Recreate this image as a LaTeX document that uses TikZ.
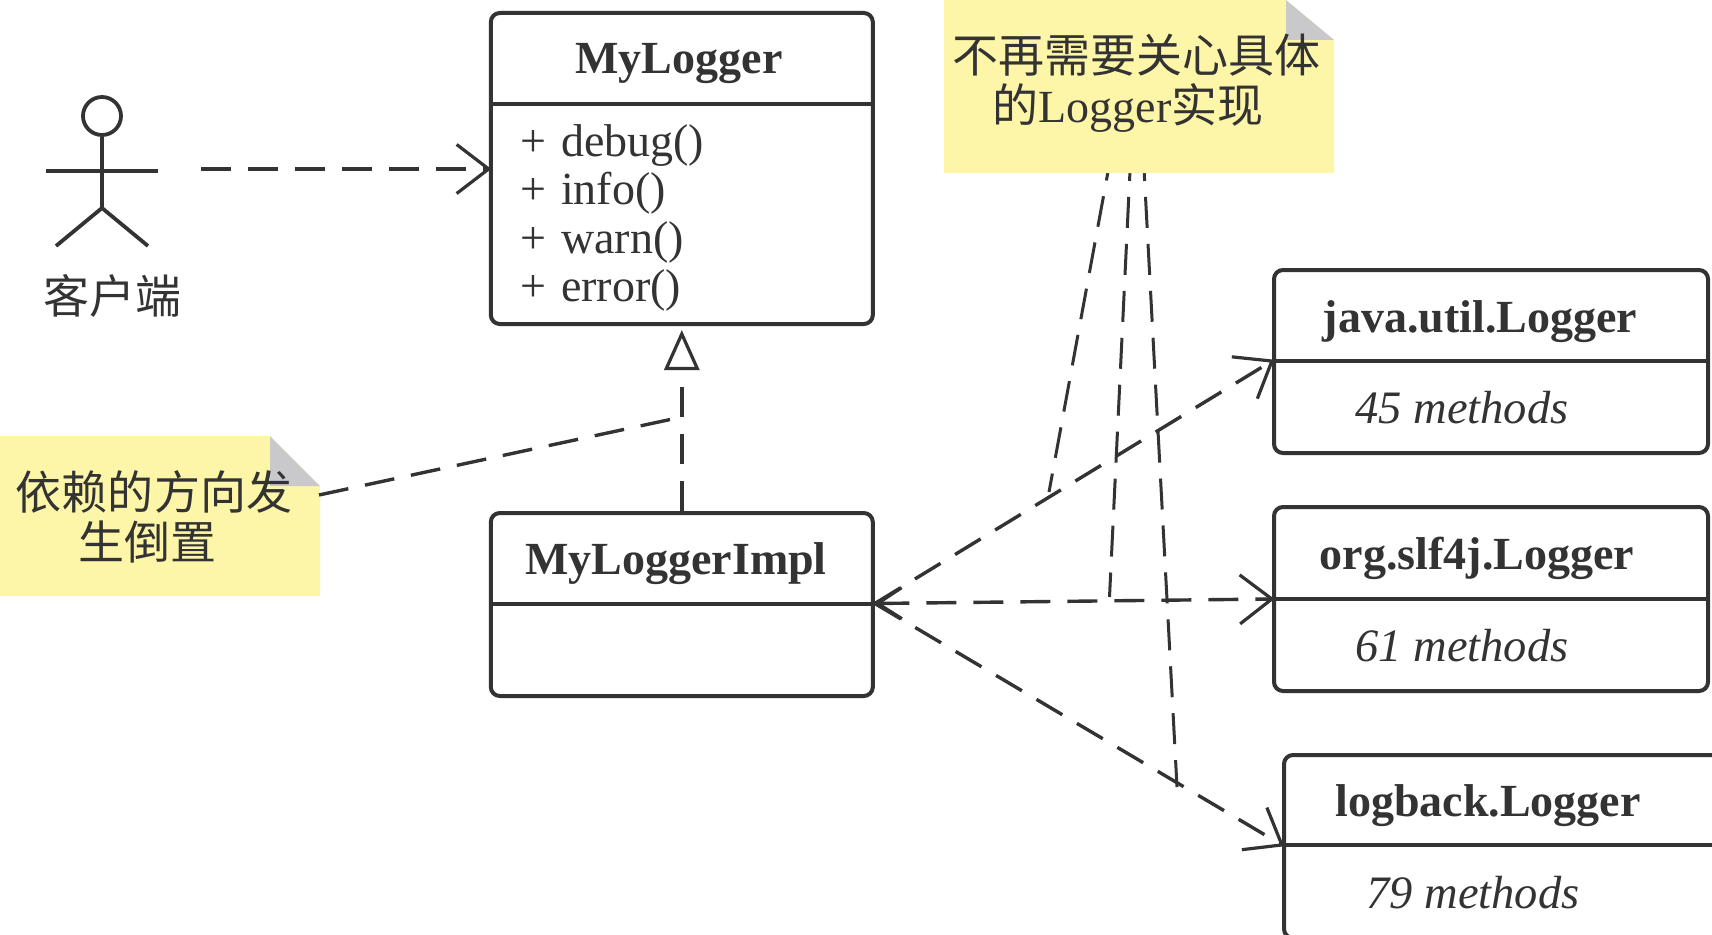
\documentclass[tikz,border=0pt]{standalone}
\usepackage{fontspec}
\setmainfont{Liberation Serif}
\newfontfamily\cjk{Noto Sans CJK SC}
\usetikzlibrary{arrows.meta}
\definecolor{ink}{HTML}{333333}
\definecolor{notey}{HTML}{FDF6A9}
\definecolor{foldg}{HTML}{C9C9CB}
\tikzset{
  umlbox/.style={draw=ink,line width=4pt,rounded corners=9pt,fill=none,inner sep=0pt},
  divider/.style={draw=ink,line width=4pt},
  title/.style={font=\fontsize{46}{50}\selectfont\bfseries,text=ink,inner sep=0pt,anchor=base},
  member/.style={font=\fontsize{46}{50}\selectfont,text=ink,inner sep=0pt,anchor=base west},
  count/.style={font=\fontsize{46.5}{50}\selectfont\itshape,text=ink,inner sep=0pt,anchor=base},
  notetext/.style={font=\fontsize{46}{50}\selectfont,text=ink,inner sep=0pt,align=center},
  dep/.style={draw=ink,line width=3.4pt,dash pattern=on 30pt off 17pt},
  thin dep/.style={draw=ink,line width=3pt,dash pattern=on 31pt off 16pt},
  barb/.style={-{Straight Barb[length=32pt,width=49pt,line width=3.2pt]},shorten >=-2.5pt},
  stick/.style={draw=ink,line width=3.8pt},
}
\begin{document}
\begin{tikzpicture}[x=1pt,y=-1pt]
\useasboundingbox (0,0) rectangle (1712,934);
\clip (0,0) rectangle (1712,934);

% class boxes
\node[umlbox,minimum width=382pt,minimum height=311pt] (logger) at (681.8,168.5) {};
\node[umlbox,minimum width=382pt,minimum height=183pt] (impl) at (681.8,604.5) {};
\node[umlbox,minimum width=434pt,minimum height=183pt] (java) at (1491,361.5) {};
\node[umlbox,minimum width=434pt,minimum height=184pt] (slf) at (1491,599) {};
\node[umlbox,minimum width=446pt,minimum height=183pt] (logback) at (1507,846.5) {};

\draw[divider] (logger.west |- 0,104) -- (logger.east |- 0,104);
\draw[divider] (impl.west |- 0,603.5) -- (impl.east |- 0,603.5);
\draw[divider] (java.west |- 0,361) -- (java.east |- 0,361);
\draw[divider] (slf.west |- 0,599) -- (slf.east |- 0,599);
\draw[divider] (logback.west |- 0,845) -- (logback.east |- 0,845);

\node[title] (loggerT) at (679,74) {MyLogger};
\node[member] (m1) at (520,156) {+\hspace*{15pt}debug()};
\node[member] (m2) at (520,204) {+\hspace*{15pt}info()};
\node[member] (m3) at (520,253) {+\hspace*{15pt}warn()};
\node[member] (m4) at (520,301) {+\hspace*{15pt}error()};
\node[title] (implT) at (676,574) {MyLoggerImpl};
\node[title] (javaT) at (1480,332) {java.util.Logger};
\node[count] (javaC) at (1462,423) {45 methods};
\node[title] (slfT) at (1477,569) {org.slf4j.Logger};
\node[count] (slfC) at (1462,661) {61 methods};
\node[title] (logbackT) at (1488,816) {logback.Logger};
\node[count] (logbackC) at (1473,908) {79 methods};

% actor
\node[draw=ink,line width=3.8pt,circle,inner sep=0pt,minimum size=38pt] (head) at (102,116) {};
\coordinate (hip) at (102,208);
\coordinate (armL) at (46,171);
\coordinate (armR) at (158,171);
\coordinate (legL) at (56,246);
\coordinate (legR) at (148,246);
\draw[stick] (head.south) -- (hip);
\draw[stick] (armL) -- (armR);
\draw[stick] (legL) -- (hip) -- (legR);
\node[font=\cjk\fontsize{46}{50}\selectfont,text=ink,inner sep=0pt] (client) at (112,296) {客户端};

% connectors
\coordinate (clientOut) at (201,169);
\coordinate (loggerIn) at (logger.west |- 0,169);
\draw[dep,barb] (clientOut) -- (loggerIn);

\coordinate (loggerTip) at (681.8,330);
\draw[dep,-{Triangle[open,length=40pt,width=35pt,line width=3.2pt,fill=white]}] (impl.north) -- (loggerTip);

\coordinate (implP) at (impl.east |- 0,603.5);
\coordinate (javaP) at (java.west |- 0,361);
\coordinate (slfP) at (slf.west |- 0,599);
\coordinate (logbackP) at (logback.west |- 0,845);
\draw[dep,barb] (implP) -- (javaP);
\draw[dep,shorten >=-2.5pt,{Straight Barb[length=24pt,width=31pt,line width=3.2pt]}-{Straight Barb[length=32pt,width=49pt,line width=3.2pt]}] (implP) -- (slfP);
\draw[dep,barb] (implP) -- (logbackP);

% note comment lines (they run out from under the note)
\coordinate (noteBa) at (1112,150);
\coordinate (noteBb) at (1131,150);
\coordinate (noteBc) at (1143,150);
\coordinate (onJava) at (1049,492);
\coordinate (onSlf) at (1109.5,597);
\coordinate (onLogback) at (1177,787);
\draw[thin dep] (noteBa) -- (onJava);
\draw[thin dep] (noteBb) -- (onSlf);
\draw[thin dep] (noteBc) -- (onLogback);

% note: dependency direction
\fill[notey] (0,436) -- (270,436) -- (320,486) -- (320,596) -- (0,596) -- cycle;
\fill[foldg] (270,436) -- (320,486) -- (270,486) -- cycle;
\node[notetext,font=\cjk\fontsize{46}{50}\selectfont] (noteA) at (154,517) {依赖的方向发\\生倒置\hspace*{13pt}};
\coordinate (noteAout) at (319,495);
\coordinate (onImplLine) at (681.8,417);
\draw[dep] (noteAout) -- (onImplLine);

% note: no concrete logger
\fill[notey] (944,0) -- (1286,0) -- (1334,40) -- (1334,173) -- (944,173) -- cycle;
\fill[foldg] (1286,0) -- (1334,40) -- (1286,40) -- cycle;
\node[notetext] (noteB) at (1136.5,83) {{\cjk 不再需要关心具体}\\{\cjk 的}Logger{\cjk 实现}\hspace*{17pt}};
\end{tikzpicture}
\end{document}
